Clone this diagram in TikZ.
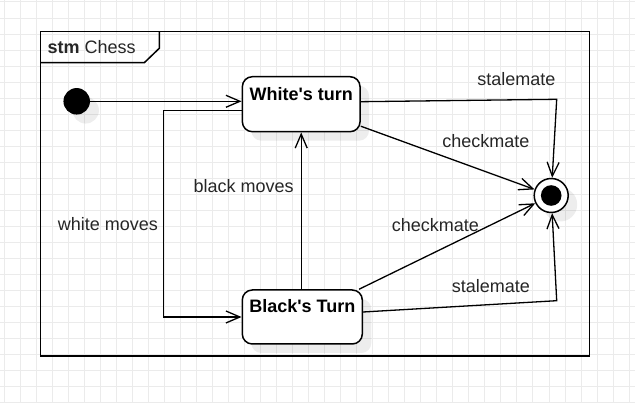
\documentclass[tikz,border=0pt]{standalone}
\usepackage{fontspec}
\setmainfont{Liberation Sans}
\usetikzlibrary{arrows.meta,shadows}
\begin{document}
\begin{tikzpicture}[
    x=1pt, y=-1pt,
    font=\fontsize{18}{21}\selectfont,
    gridline/.style={draw=black!8, line width=1pt},
    shade/.style={drop shadow={shadow xshift=9pt, shadow yshift=-9pt, fill=black, opacity=.07}},
    turn/.style={draw, fill=white, rounded corners=10pt, line width=1.5pt, minimum height=55pt,
      inner sep=0pt, text height=13pt, text depth=21pt, font=\fontsize{18}{21}\selectfont\bfseries, shade},
    pseudo/.style={circle, fill=black, minimum size=26.5pt, inner sep=0pt, shade},
    move/.style={line width=1.3pt, -{Straight Barb[length=14pt, width=12pt]}},
    lbl/.style={inner sep=0pt, text=black!85}
  ]
  \useasboundingbox (0,0) rectangle (635,403);
  % grid
  \fill[white] (0,0) rectangle (635,403);
  \foreach \gx in {0,...,39} \draw[gridline] ({4+16.03*\gx},0) -- ({4+16.03*\gx},403);
  \foreach \gy in {0,...,25} \draw[gridline] (0,{2+16.03*\gy}) -- (635,{2+16.03*\gy});
  % frame
  \draw[line width=1.5pt] (40.3,31.7) rectangle (589.3,356);
  \draw[line width=1.5pt] (40.3,62.7) -- (144.3,62.7) -- (159.3,48.3) -- (159.3,31.7);
  \node[lbl, anchor=west] (tag) at (47.3,47.2) {\textbf{stm} Chess};
  % states
  \node[pseudo] (start) at (76.7,101.3) {};
  \node[turn, minimum width=117.7pt] (white) at (301.2,104.2) {White\textquotesingle s turn};
  \node[turn, minimum width=120pt, minimum height=54pt] (black) at (302.3,317) {Black\textquotesingle s Turn};
  \node[circle, draw, fill=white, line width=1.5pt, minimum size=34pt, inner sep=0pt, shade] (final) at (551.2,195.5) {};
  \fill (final.center) circle (10.3pt);
  % transitions
  \coordinate (wcorner) at (556.7,99.3);
  \coordinate (bcorner) at (556.7,300.7);
  \draw[move] (start) -- (start -| white.west);
  \draw[move] ([yshift=-6.5pt]white.west) -- ++(-78pt,0)
    |- node[lbl, pos=.275, left=5pt] (lwm) {white moves} (black.west);
  \draw[move] (black.north -| white.south) -- node[lbl, pos=.66, left=7pt] (lbm) {black moves} (white.south);
  \draw[move] ([yshift=2.5pt]white.east) -- (wcorner) -- (final);
  \draw[move] ([yshift=-22pt]white.east) -- (final);
  \draw[move] ([xshift=-4pt]black.north east) -- (final);
  \draw[move] ([yshift=5pt]black.east) -- (bcorner) -- (final);
  \node[lbl] (lws) at (516.3,79.2) {stalemate};
  \node[lbl] (lwc) at (485.8,141.2) {checkmate};
  \node[lbl] (lbc) at (435.3,225) {checkmate};
  \node[lbl] (lbs) at (490.8,286.3) {stalemate};
\end{tikzpicture}
\end{document}
